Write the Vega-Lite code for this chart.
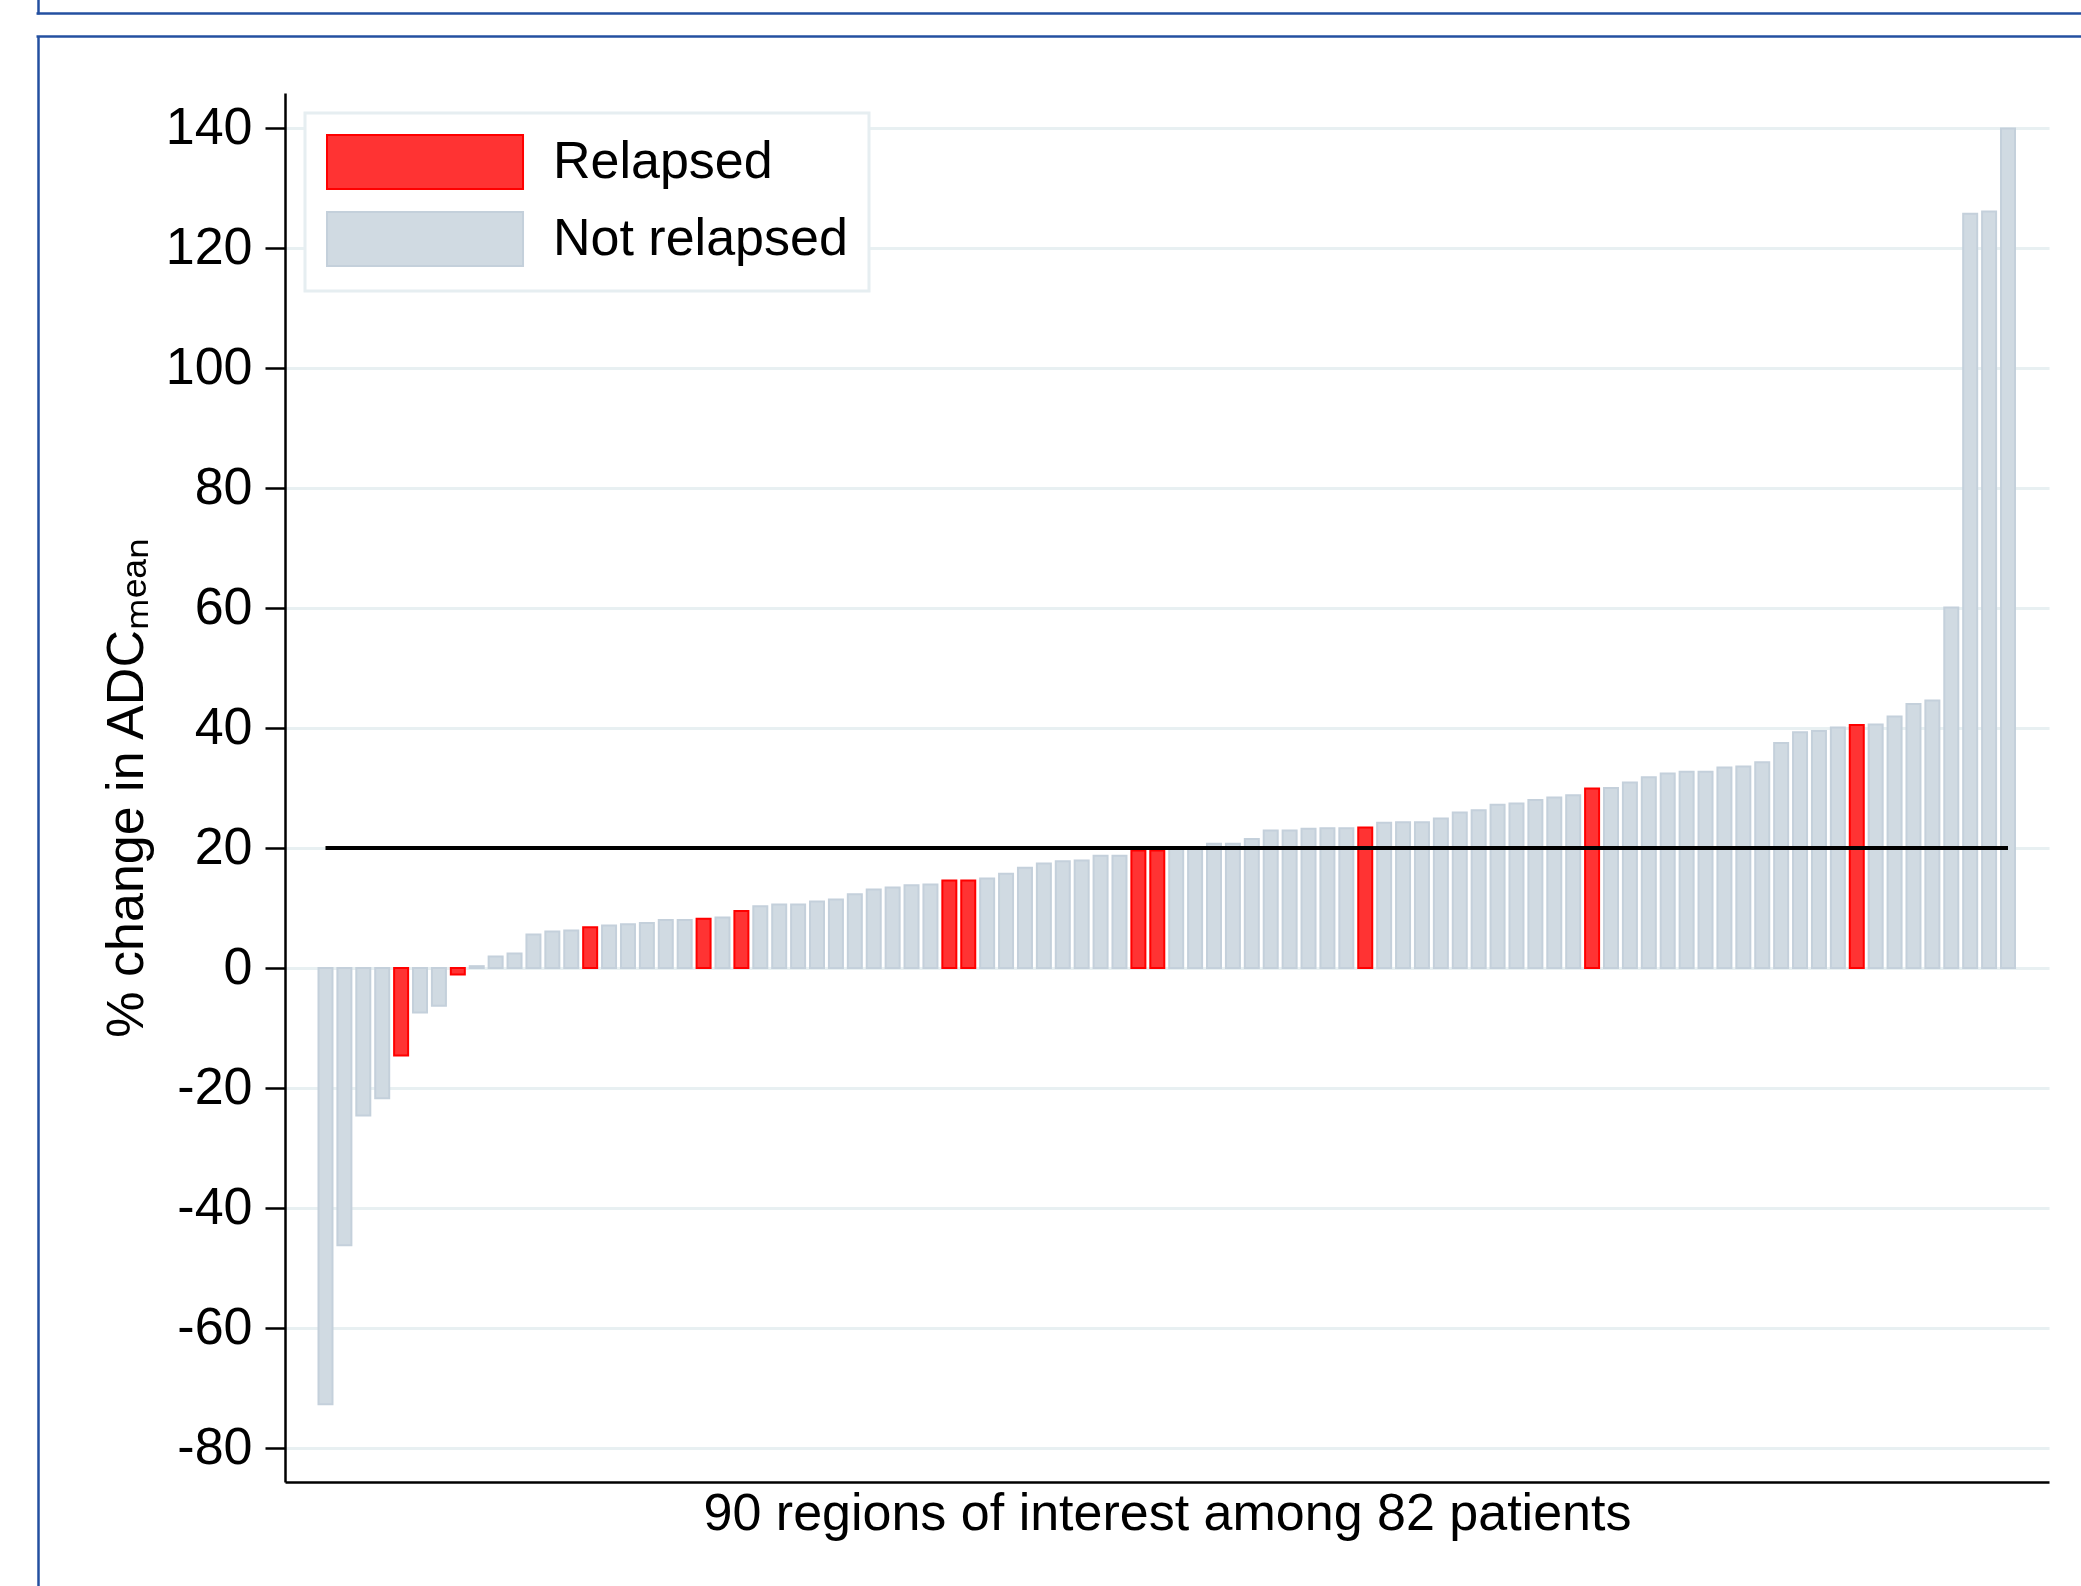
{
  "$schema": "https://vega.github.io/schema/vega-lite/v6.json",
  "width": 1764,
  "height": 1389,
  "autosize": {"type": "none"},
  "padding": {"left": 285, "top": 93, "right": 32, "bottom": 104},
  "background": "white",
  "config": {"view": {"stroke": null}, "font": "Liberation Sans"},
  "resolve": {"scale": {"x": "independent", "y": "independent"}, "axis": {"x": "independent", "y": "independent"}},
  "layer": [
    {
      "data": {"values": [
        {"idx": 1, "change": -72.7, "status": "Not relapsed"},
        {"idx": 2, "change": -46.2, "status": "Not relapsed"},
        {"idx": 3, "change": -24.6, "status": "Not relapsed"},
        {"idx": 4, "change": -21.7, "status": "Not relapsed"},
        {"idx": 5, "change": -14.6, "status": "Relapsed"},
        {"idx": 6, "change": -7.4, "status": "Not relapsed"},
        {"idx": 7, "change": -6.3, "status": "Not relapsed"},
        {"idx": 8, "change": -1.1, "status": "Relapsed"},
        {"idx": 9, "change": 0.3, "status": "Not relapsed"},
        {"idx": 10, "change": 1.9, "status": "Not relapsed"},
        {"idx": 11, "change": 2.4, "status": "Not relapsed"},
        {"idx": 12, "change": 5.6, "status": "Not relapsed"},
        {"idx": 13, "change": 6.1, "status": "Not relapsed"},
        {"idx": 14, "change": 6.25, "status": "Not relapsed"},
        {"idx": 15, "change": 6.8, "status": "Relapsed"},
        {"idx": 16, "change": 7.1, "status": "Not relapsed"},
        {"idx": 17, "change": 7.3, "status": "Not relapsed"},
        {"idx": 18, "change": 7.5, "status": "Not relapsed"},
        {"idx": 19, "change": 8.0, "status": "Not relapsed"},
        {"idx": 20, "change": 8.0, "status": "Not relapsed"},
        {"idx": 21, "change": 8.2, "status": "Relapsed"},
        {"idx": 22, "change": 8.4, "status": "Not relapsed"},
        {"idx": 23, "change": 9.5, "status": "Relapsed"},
        {"idx": 24, "change": 10.3, "status": "Not relapsed"},
        {"idx": 25, "change": 10.6, "status": "Not relapsed"},
        {"idx": 26, "change": 10.6, "status": "Not relapsed"},
        {"idx": 27, "change": 11.1, "status": "Not relapsed"},
        {"idx": 28, "change": 11.4, "status": "Not relapsed"},
        {"idx": 29, "change": 12.3, "status": "Not relapsed"},
        {"idx": 30, "change": 13.1, "status": "Not relapsed"},
        {"idx": 31, "change": 13.4, "status": "Not relapsed"},
        {"idx": 32, "change": 13.8, "status": "Not relapsed"},
        {"idx": 33, "change": 13.9, "status": "Not relapsed"},
        {"idx": 34, "change": 14.6, "status": "Relapsed"},
        {"idx": 35, "change": 14.6, "status": "Relapsed"},
        {"idx": 36, "change": 14.9, "status": "Not relapsed"},
        {"idx": 37, "change": 15.7, "status": "Not relapsed"},
        {"idx": 38, "change": 16.7, "status": "Not relapsed"},
        {"idx": 39, "change": 17.4, "status": "Not relapsed"},
        {"idx": 40, "change": 17.8, "status": "Not relapsed"},
        {"idx": 41, "change": 17.9, "status": "Not relapsed"},
        {"idx": 42, "change": 18.7, "status": "Not relapsed"},
        {"idx": 43, "change": 18.7, "status": "Not relapsed"},
        {"idx": 44, "change": 19.6, "status": "Relapsed"},
        {"idx": 45, "change": 19.6, "status": "Relapsed"},
        {"idx": 46, "change": 20.0, "status": "Not relapsed"},
        {"idx": 47, "change": 20.1, "status": "Not relapsed"},
        {"idx": 48, "change": 20.7, "status": "Not relapsed"},
        {"idx": 49, "change": 20.7, "status": "Not relapsed"},
        {"idx": 50, "change": 21.5, "status": "Not relapsed"},
        {"idx": 51, "change": 22.9, "status": "Not relapsed"},
        {"idx": 52, "change": 22.9, "status": "Not relapsed"},
        {"idx": 53, "change": 23.2, "status": "Not relapsed"},
        {"idx": 54, "change": 23.3, "status": "Not relapsed"},
        {"idx": 55, "change": 23.3, "status": "Not relapsed"},
        {"idx": 56, "change": 23.4, "status": "Relapsed"},
        {"idx": 57, "change": 24.2, "status": "Not relapsed"},
        {"idx": 58, "change": 24.3, "status": "Not relapsed"},
        {"idx": 59, "change": 24.3, "status": "Not relapsed"},
        {"idx": 60, "change": 24.9, "status": "Not relapsed"},
        {"idx": 61, "change": 25.9, "status": "Not relapsed"},
        {"idx": 62, "change": 26.3, "status": "Not relapsed"},
        {"idx": 63, "change": 27.2, "status": "Not relapsed"},
        {"idx": 64, "change": 27.4, "status": "Not relapsed"},
        {"idx": 65, "change": 28.0, "status": "Not relapsed"},
        {"idx": 66, "change": 28.4, "status": "Not relapsed"},
        {"idx": 67, "change": 28.8, "status": "Not relapsed"},
        {"idx": 68, "change": 29.9, "status": "Relapsed"},
        {"idx": 69, "change": 30.0, "status": "Not relapsed"},
        {"idx": 70, "change": 30.9, "status": "Not relapsed"},
        {"idx": 71, "change": 31.8, "status": "Not relapsed"},
        {"idx": 72, "change": 32.4, "status": "Not relapsed"},
        {"idx": 73, "change": 32.7, "status": "Not relapsed"},
        {"idx": 74, "change": 32.7, "status": "Not relapsed"},
        {"idx": 75, "change": 33.4, "status": "Not relapsed"},
        {"idx": 76, "change": 33.6, "status": "Not relapsed"},
        {"idx": 77, "change": 34.3, "status": "Not relapsed"},
        {"idx": 78, "change": 37.5, "status": "Not relapsed"},
        {"idx": 79, "change": 39.3, "status": "Not relapsed"},
        {"idx": 80, "change": 39.5, "status": "Not relapsed"},
        {"idx": 81, "change": 40.1, "status": "Not relapsed"},
        {"idx": 82, "change": 40.5, "status": "Relapsed"},
        {"idx": 83, "change": 40.6, "status": "Not relapsed"},
        {"idx": 84, "change": 41.9, "status": "Not relapsed"},
        {"idx": 85, "change": 44.0, "status": "Not relapsed"},
        {"idx": 86, "change": 44.6, "status": "Not relapsed"},
        {"idx": 87, "change": 60.1, "status": "Not relapsed"},
        {"idx": 88, "change": 125.7, "status": "Not relapsed"},
        {"idx": 89, "change": 126.1, "status": "Not relapsed"},
        {"idx": 90, "change": 139.9, "status": "Not relapsed"}
      ]},
      "layer": [
        {
          "mark": {"type": "bar", "size": 14, "strokeWidth": 2, "opacity": 1},
          "encoding": {
            "x": {"field": "idx", "type": "quantitative",
              "scale": {"domain": [-1.142, 92.169], "nice": false, "zero": false, "padding": 0},
              "axis": {"title": "90 regions of interest among 82 patients", "labels": false, "ticks": false, "grid": false,
                "domainColor": "black", "domainWidth": 2.5, "titleFontSize": 52, "titleFontWeight": "normal",
                "titlePadding": 6, "titleColor": "black", "titleFont": "Liberation Sans"}},
            "y": {"field": "change", "type": "quantitative",
              "scale": {"domain": [-85.67, 145.83], "nice": false, "zero": false, "padding": 0},
              "axis": {"title": "% change in ADCₘₑₐₙ", "values": [-80, -60, -40, -20, 0, 20, 40, 60, 80, 100, 120, 140],
                "labelExpr": "datum.value < 0 ? '-' + abs(datum.value) : '' + datum.value",
                "tickSize": 20, "tickWidth": 2.5, "tickColor": "black", "domainColor": "black", "domainWidth": 2.5,
                "labelFontSize": 52, "labelColor": "black", "labelPadding": 13, "labelFont": "Liberation Sans",
                "gridColor": "#e8f0f2", "gridWidth": 3, "titleFontSize": 52, "titleFontWeight": "normal",
                "titlePadding": 12, "titleColor": "black", "titleFont": "Liberation Sans"}},
            "fill": {"field": "status", "type": "nominal",
              "scale": {"domain": ["Relapsed", "Not relapsed"], "range": ["#ff3333", "#d0dae2"]},
              "legend": {"title": null, "orient": "top-left", "offset": 20,
                "symbolType": "M-1,-1L6.26,-1L6.26,1L-1,1Z", "symbolSize": 2916,
                "symbolStrokeWidth": 2, "symbolOpacity": 1, "labelFontSize": 52, "labelColor": "black",
                "labelFont": "Liberation Sans", "labelOffset": 171, "padding": 21, "strokeColor": "#e6eef1",
                "fillColor": "white", "rowPadding": 15, "labelLimit": 1000,
                "encode": {"legend": {"update": {"strokeWidth": {"value": 3}}}}}},
            "stroke": {"field": "status", "type": "nominal",
              "scale": {"domain": ["Relapsed", "Not relapsed"], "range": ["#ff0000", "#c4d0db"]},
              "legend": {"title": null, "orient": "top-left", "offset": 20,
                "symbolType": "M-1,-1L6.26,-1L6.26,1L-1,1Z", "symbolSize": 2916,
                "symbolStrokeWidth": 2, "symbolOpacity": 1, "labelFontSize": 52, "labelColor": "black",
                "labelFont": "Liberation Sans", "labelOffset": 171, "padding": 21, "strokeColor": "#e6eef1",
                "fillColor": "white", "rowPadding": 15, "labelLimit": 1000,
                "encode": {"legend": {"update": {"strokeWidth": {"value": 3}}}}}}
          }
        },
        {
          "data": {"values": [{"idx": 1, "idx2": 90, "change": 20}]},
          "mark": {"type": "rule", "strokeWidth": 4, "color": "black"},
          "encoding": {
            "x": {"field": "idx", "type": "quantitative"},
            "x2": {"field": "idx2"},
            "y": {"field": "change", "type": "quantitative"}
          }
        }
      ]
    },
    {
      "data": {"values": [{"f": 0}]},
      "mark": {"type": "point", "opacity": 0},
      "encoding": {
        "y": {"field": "f", "type": "quantitative", "scale": {"domain": [0, 1], "range": [1520, -57]},
          "axis": {"orient": "left", "offset": 247, "domainColor": "#2450a0", "domainWidth": 2.5, "ticks": false, "labels": false, "grid": false, "title": null}}
      }
    },
    {
      "data": {"values": [{"g": 0}]},
      "mark": {"type": "point", "opacity": 0},
      "encoding": {
        "y": {"field": "g", "type": "quantitative", "scale": {"domain": [0, 1], "range": [-79, -100]},
          "axis": {"orient": "left", "offset": 247, "domainColor": "#2450a0", "domainWidth": 2.5, "ticks": false, "labels": false, "grid": false, "title": null}}
      }
    },
    {
      "data": {"values": [{"h": 0}]},
      "mark": {"type": "point", "opacity": 0},
      "encoding": {
        "x": {"field": "h", "type": "quantitative", "scale": {"domain": [0, 1], "range": [-249, 1820]},
          "axis": {"orient": "top", "offset": 57, "domainColor": "#2450a0", "domainWidth": 2.5, "ticks": false, "labels": false, "grid": false, "title": null}}
      }
    },
    {
      "data": {"values": [{"k": 0}]},
      "mark": {"type": "point", "opacity": 0},
      "encoding": {
        "x": {"field": "k", "type": "quantitative", "scale": {"domain": [0, 1], "range": [-249, 1820]},
          "axis": {"orient": "top", "offset": 80, "domainColor": "#2450a0", "domainWidth": 2.5, "ticks": false, "labels": false, "grid": false, "title": null}}
      }
    }
  ]
}
